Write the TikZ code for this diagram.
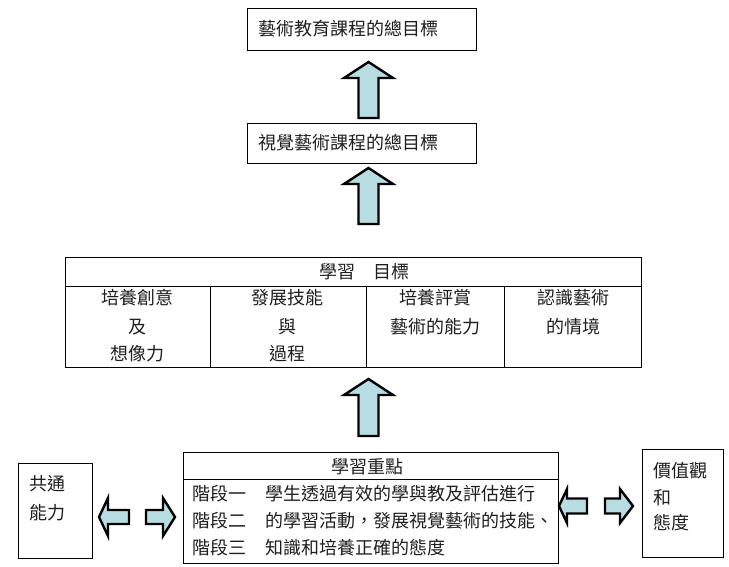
\documentclass[tikz,border=0pt]{standalone}
\usepackage{fontspec}
\newfontfamily\cjk{Noto Sans CJK TC}
\definecolor{arrowfill}{RGB}{183,221,226}
\definecolor{txt}{RGB}{30,30,30}
\begin{document}
\begin{tikzpicture}[x=1pt,y=-1pt,
  box/.style={draw=black,line width=0.9pt},
  blockarrow/.style={draw=black,line width=2.4pt,fill=arrowfill,line join=miter},
  lbl/.style={inner sep=0pt,text=txt,font=\cjk\fontsize{18}{18}\selectfont}]
\useasboundingbox (0,0) rectangle (729,567);
% top boxes
\draw[box] (247,8) rectangle (476,50);
\node[lbl,anchor=base west] (t1) at (258,36) {藝術教育課程的總目標};
\draw[box] (247,123) rectangle (476,163);
\node[lbl,anchor=base west] (t2) at (258,150) {視覺藝術課程的總目標};
% table
\draw[box] (65,257) rectangle (641,367);
\draw[box] (65,286) -- (641,286);
\draw[box] (210,286) -- (210,367);
\draw[box] (366,286) -- (366,367);
\draw[box] (504,286) -- (504,367);
\node[lbl,anchor=base] (th) at (364,278) {學習　目標};
\node[lbl,anchor=base] (c11) at (137,305) {培養創意};
\node[lbl,anchor=base] (c12) at (137,333) {及};
\node[lbl,anchor=base] (c13) at (137,360) {想像力};
\node[lbl,anchor=base] (c21) at (287,305) {發展技能};
\node[lbl,anchor=base] (c22) at (287,333) {與};
\node[lbl,anchor=base] (c23) at (287,360) {過程};
\node[lbl,anchor=base] (c31) at (435,305) {培養評賞};
\node[lbl,anchor=base] (c32) at (435,333) {藝術的能力};
\node[lbl,anchor=base] (c41) at (573,305) {認識藝術};
\node[lbl,anchor=base] (c42) at (573,333) {的情境};
% bottom center box
\draw[box] (183,452) rectangle (558,563);
\draw[box] (183,479) -- (558,479);
\node[lbl,anchor=base] (bh) at (367,473) {學習重點};
\node[lbl,anchor=base west] (s1) at (192,500) {階段一};
\node[lbl,anchor=base west] (s2) at (192,527) {階段二};
\node[lbl,anchor=base west] (s3) at (192,554) {階段三};
\node[lbl,anchor=base west] (d1) at (265,500) {學生透過有效的學與教及評估進行};
\node[lbl,anchor=base west] (d2) at (265,527) {的學習活動，發展視覺藝術的技能、};
\node[lbl,anchor=base west] (d3) at (265,554) {知識和培養正確的態度};
% left box
\draw[box] (18,463) rectangle (92,558);
\node[lbl,anchor=base west] (l1) at (29,490) {共通};
\node[lbl,anchor=base west] (l2) at (29,519) {能力};
% right box
\draw[box] (642,449) rectangle (723,557);
\node[lbl,anchor=base west] (r1) at (653,477) {價值觀};
\node[lbl,anchor=base west] (r2) at (653,504) {和};
\node[lbl,anchor=base west] (r3) at (653,529) {態度};
% vertical block arrows
\draw[blockarrow] (358.5,118) -- (358.5,78) -- (344,78) -- (368.5,62) -- (393,78) -- (378.5,78) -- (378.5,118) -- cycle;
\draw[blockarrow] (358.5,224) -- (358.5,184) -- (344,184) -- (368.5,168) -- (393,184) -- (378.5,184) -- (378.5,224) -- cycle;
\draw[blockarrow] (358.5,436) -- (358.5,395) -- (344,395) -- (368.5,379) -- (393,395) -- (378.5,395) -- (378.5,436) -- cycle;
% horizontal block arrows left
\draw[blockarrow] (129,510) -- (108,510) -- (108,498) -- (99,517) -- (108,536) -- (108,524) -- (129,524) -- cycle;
\draw[blockarrow] (146,510) -- (163,510) -- (163,498) -- (175,517) -- (163,536) -- (163,524) -- (146,524) -- cycle;
% horizontal block arrows right
\draw[blockarrow] (587,498.5) -- (567,498.5) -- (567,489) -- (559,506) -- (567,523) -- (567,513.5) -- (587,513.5) -- cycle;
\draw[blockarrow] (605,498.5) -- (620,498.5) -- (620,489) -- (633,506) -- (620,523) -- (620,513.5) -- (605,513.5) -- cycle;
\end{tikzpicture}
\end{document}
